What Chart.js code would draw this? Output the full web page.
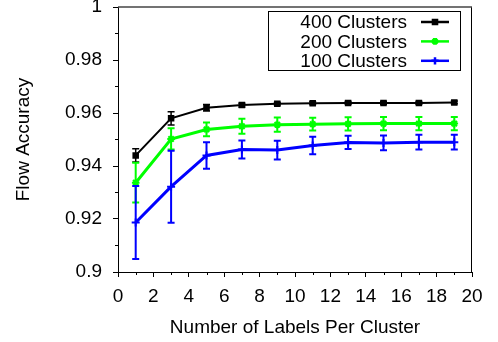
<!DOCTYPE html>
<html>
<head>
<meta charset="utf-8">
<script src="https://cdn.jsdelivr.net/npm/chart.js@4/dist/chart.umd.min.js"></script>
<style>
  html, body { margin: 0; padding: 0; background: #fff; }
  #wrap { width: 498px; height: 342px; position: relative; }
</style>
</head>
<body>
<div id="wrap"><canvas id="chart"></canvas></div>
<script>
// ── data ──
const labelsPerCluster = [1, 3, 5, 7, 9, 11, 13, 15, 17, 19];
const acc400 = [0.944, 0.958, 0.962, 0.963, 0.9635, 0.9637, 0.9638, 0.9638, 0.9638, 0.964];
const err400 = [0.0025, 0.0025, 0.0012, 0.0007, 0.0005, 0.0005, 0.0005, 0.0005, 0.0005, 0.0005];
const acc200 = [0.9337, 0.9502, 0.9538, 0.955, 0.9556, 0.9558, 0.9559, 0.956, 0.956, 0.956];
const err200 = [0.0075, 0.004, 0.0026, 0.0028, 0.0027, 0.0024, 0.0025, 0.0025, 0.0025, 0.0025];
const acc100 = [0.9187, 0.9322, 0.944, 0.9462, 0.946, 0.9477, 0.9489, 0.9487, 0.949, 0.949];
const err100 = [0.0138, 0.0136, 0.005, 0.0034, 0.0035, 0.0033, 0.0025, 0.0028, 0.0028, 0.0028];
const seriesNames = ['400 Clusters', '200 Clusters', '100 Clusters'];
const xTicks = [0, 2, 4, 6, 8, 10, 12, 14, 16, 18, 20];
const yTicks = [0.9, 0.92, 0.94, 0.96, 0.98, 1];

const FONT = 'Liberation Sans, Arial, Helvetica, sans-serif';
const toPts = (ys) => labelsPerCluster.map((x, i) => ({ x: x, y: ys[i] }));

// series styles, same order as seriesNames
const styles = [
    { color: '#000000', width: 2, point: 'rect', r: 3.2, err: err400 },
    { color: '#00ff00', width: 3, point: 'star', r: 3.8, err: err200 },
    { color: '#0000ff', width: 3, point: 'cross', r: 4, err: err100 },
];
const styleOf = (label) => styles[seriesNames.indexOf(label)];

function drawMarker(ctx, st, x, y) {
    Chart.helpers.drawPoint(ctx, { pointStyle: st.point, radius: st.r * 0.9, borderWidth: 2 }, x, y);
}

// ── error bars, drawn right after each dataset ──
const errorBars = {
    id: 'errorBars',
    afterDatasetDraw(chart, args) {
        const ds = chart.data.datasets[args.index];
        const st = styleOf(ds.label);
        const sy = chart.scales.y;
        const ctx = chart.ctx;
        ctx.save();
        ctx.strokeStyle = st.color;
        ctx.lineWidth = st.width === 2 ? 1.5 : 2;
        args.meta.data.forEach((pt, i) => {
            const v = ds.data[i].y;
            const e = st.err[i];
            const top = sy.getPixelForValue(v + e);
            const bot = sy.getPixelForValue(v - e);
            ctx.beginPath();
            ctx.moveTo(pt.x, top); ctx.lineTo(pt.x, bot);
            ctx.moveTo(pt.x - 3.5, top); ctx.lineTo(pt.x + 3.5, top);
            ctx.moveTo(pt.x - 3.5, bot); ctx.lineTo(pt.x + 3.5, bot);
            ctx.stroke();
        });
        ctx.restore();
    }
};

// ── frame, minor ticks and legend ──
const frame = {
    id: 'frame',
    afterDraw(chart) {
        const { ctx, chartArea: a, scales } = chart;
        ctx.save();
        ctx.strokeStyle = '#000';
        ctx.lineWidth = 1;
        ctx.beginPath();
        ctx.moveTo(a.right - 0.5, a.top); ctx.lineTo(a.right - 0.5, a.bottom);
        ctx.stroke();
        ctx.strokeStyle = '#444';
        ctx.lineWidth = 1.5;
        ctx.beginPath();
        ctx.moveTo(a.left, a.top); ctx.lineTo(a.right, a.top);
        ctx.stroke();

        // minor ticks
        ctx.strokeStyle = '#000';
        ctx.lineWidth = 1;
        ctx.beginPath();
        for (let v = 1; v < 20; v += 2) {
            const px = Math.round(scales.x.getPixelForValue(v)) + 0.5;
            ctx.moveTo(px, a.bottom); ctx.lineTo(px, a.bottom + 3);
        }
        for (let v = 0.91; v < 1; v += 0.02) {
            const py = Math.round(scales.y.getPixelForValue(v)) + 0.5;
            ctx.moveTo(a.left, py); ctx.lineTo(a.left - 3, py);
        }
        ctx.stroke();

        // legend
        const box = { l: 268.5, t: 11.5, r: 460.5, b: 70.5 };
        ctx.strokeRect(box.l, box.t, box.r - box.l, box.b - box.t);
        ctx.font = '19px ' + FONT;
        ctx.textAlign = 'right';
        ctx.textBaseline = 'middle';
        seriesNames.forEach((name, i) => {
            const y = 22 + i * 19.4;
            ctx.fillStyle = '#000';
            ctx.fillText(name, 407, y + 1);
            const st = styles[i];
            ctx.strokeStyle = st.color;
            ctx.fillStyle = st.color;
            ctx.lineWidth = 2.5;
            ctx.beginPath();
            ctx.moveTo(421, y); ctx.lineTo(449, y);
            ctx.stroke();
            drawMarker(ctx, st, 435, y);
        });
        ctx.restore();
    }
};

const ctx = document.getElementById('chart').getContext('2d');
new Chart(ctx, {
    type: 'line',
    data: {
        datasets: [
            { label: seriesNames[2], data: toPts(acc100) },
            { label: seriesNames[1], data: toPts(acc200) },
            { label: seriesNames[0], data: toPts(acc400) },
        ].map(ds => {
            const st = styleOf(ds.label);
            return Object.assign(ds, {
                borderColor: st.color, backgroundColor: st.color,
                borderWidth: st.width, tension: 0,
                pointStyle: st.point, pointRadius: st.r,
                pointBorderColor: st.color, pointBackgroundColor: st.color,
                pointBorderWidth: 2,
            });
        })
    },
    options: {
        responsive: true, maintainAspectRatio: false, animation: false,
        layout: { padding: { top: 7, right: 26, left: 0, bottom: 0 } },
        plugins: { legend: { display: false }, tooltip: { enabled: false } },
        scales: {
            x: {
                type: 'linear', min: 0, max: 20,
                afterFit: (s) => { s.height = 70; s.paddingLeft = 0; s.paddingRight = 0; },
                afterBuildTicks: (s) => { s.ticks = xTicks.map(v => ({ value: v })); },
                grid: { drawOnChartArea: false, tickLength: 5, color: '#000', tickColor: '#000' },
                border: { display: true, color: '#000', width: 1 },
                ticks: { color: '#000', font: { size: 19, family: FONT }, padding: 8, maxRotation: 0 },
                title: { display: true, text: 'Number of Labels Per Cluster', color: '#000',
                    font: { size: 19, family: FONT, lineHeight: 1.2 }, padding: { top: 0, bottom: 3 } }
            },
            y: {
                type: 'linear', min: 0.9, max: 1,
                afterFit: (s) => { s.width = 118; s.paddingTop = 0; s.paddingBottom = 0; },
                afterBuildTicks: (s) => { s.ticks = yTicks.map(v => ({ value: v })); },
                grid: { drawOnChartArea: false, tickLength: 5, color: '#000', tickColor: '#000' },
                border: { display: true, color: '#000', width: 1 },
                ticks: { color: '#000', font: { size: 19, family: FONT }, padding: 11,
                    callback: (v) => String(+v.toFixed(2)) },
                title: { display: true, text: 'Flow Accuracy', color: '#000',
                    font: { size: 19, family: FONT, lineHeight: 1.2 }, padding: { top: 12, bottom: 0 } }
            }
        }
    },
    plugins: [errorBars, frame]
});
</script>
</body>
</html>
